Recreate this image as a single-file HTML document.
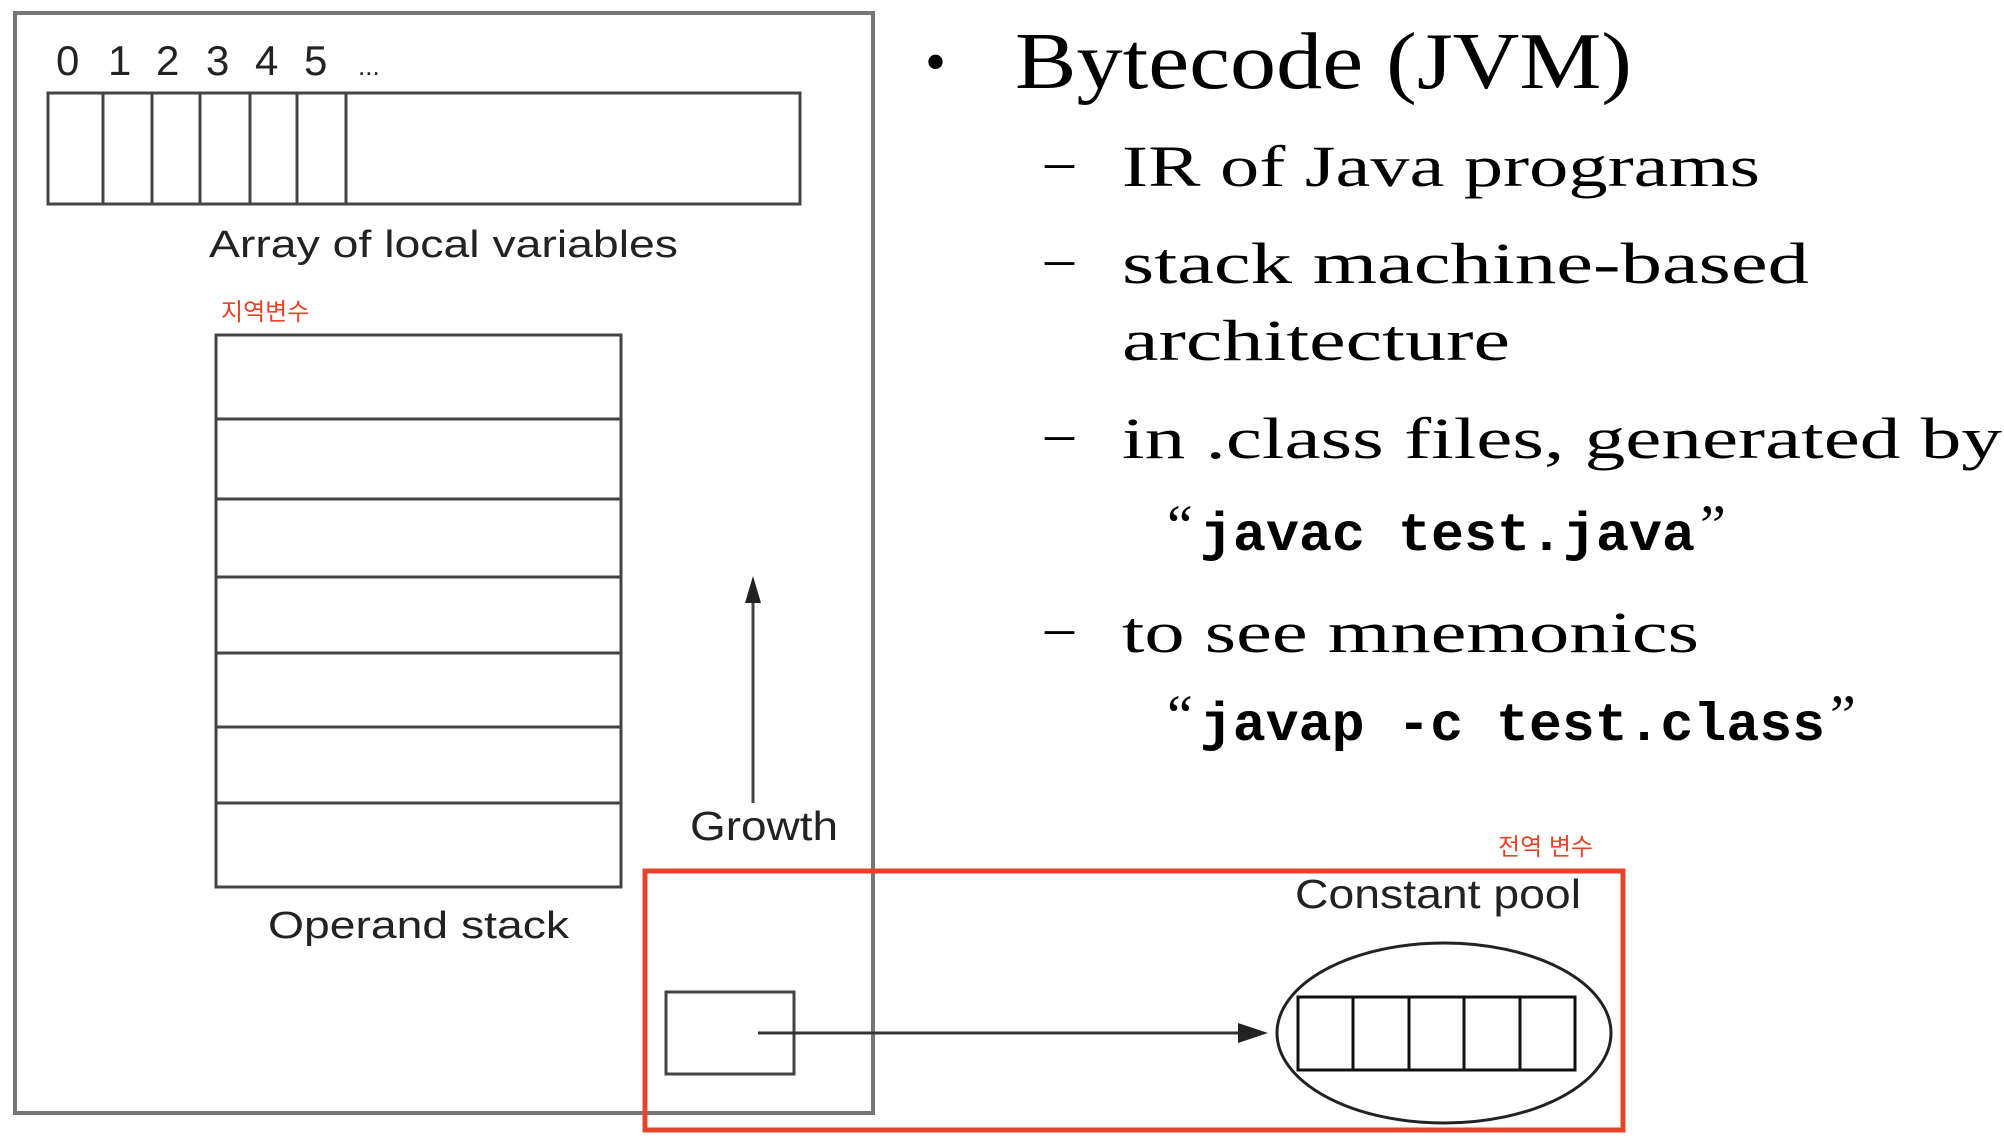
<!DOCTYPE html>
<html><head><meta charset="utf-8"><style>html,body{margin:0;padding:0;background:#fff}svg{display:block}</style></head>
<body>
<svg width="2004" height="1142" viewBox="0 0 2004 1142" xmlns="http://www.w3.org/2000/svg">
<g fill="none" stroke="#444" stroke-width="3">
<rect x="15" y="13" width="858" height="1100" stroke="#777" stroke-width="4"/>
<rect x="48" y="93" width="752" height="111"/>
<line x1="103" y1="93" x2="103" y2="204"/><line x1="152" y1="93" x2="152" y2="204"/>
<line x1="200" y1="93" x2="200" y2="204"/><line x1="250" y1="93" x2="250" y2="204"/>
<line x1="297" y1="93" x2="297" y2="204"/><line x1="346" y1="93" x2="346" y2="204"/>
<rect x="216" y="335" width="405" height="552"/>
<line x1="216" y1="419" x2="621" y2="419"/><line x1="216" y1="499" x2="621" y2="499"/>
<line x1="216" y1="577" x2="621" y2="577"/><line x1="216" y1="653" x2="621" y2="653"/>
<line x1="216" y1="727" x2="621" y2="727"/><line x1="216" y1="803" x2="621" y2="803"/>
<line x1="753" y1="803" x2="753" y2="595"/>
<rect x="666" y="992" width="128" height="82"/>
<line x1="758" y1="1033" x2="1255" y2="1033" stroke="#333"/>
<ellipse cx="1444" cy="1033" rx="167" ry="90" stroke="#222"/>
<rect x="1298" y="997" width="277" height="73" stroke="#111"/>
<line x1="1353" y1="997" x2="1353" y2="1070" stroke="#111"/><line x1="1409" y1="997" x2="1409" y2="1070" stroke="#111"/>
<line x1="1464" y1="997" x2="1464" y2="1070" stroke="#111"/><line x1="1520" y1="997" x2="1520" y2="1070" stroke="#111"/>
</g>
<polygon points="753,576 745,603 761,603" fill="#222"/>
<polygon points="1268,1033 1238,1023 1238,1043" fill="#222"/>
<rect x="645" y="871" width="978" height="259" fill="none" stroke="#e5442a" stroke-width="5"/>
<g font-family="'Liberation Sans',sans-serif" fill="#222">
<text x="56" y="75" font-size="42">0</text><text x="108" y="75" font-size="42">1</text>
<text x="156" y="75" font-size="42">2</text><text x="206" y="75" font-size="42">3</text>
<text x="255" y="75" font-size="42">4</text><text x="304" y="75" font-size="42">5</text>
<text x="358" y="75" font-size="26">...</text>
<text x="209" y="257" font-size="38" textLength="469" lengthAdjust="spacingAndGlyphs">Array of local variables</text>
<text x="268" y="938" font-size="38" textLength="301" lengthAdjust="spacingAndGlyphs">Operand stack</text>
<text x="690" y="840" font-size="41" textLength="148" lengthAdjust="spacingAndGlyphs">Growth</text>
<text x="1295" y="908" font-size="41" textLength="286" lengthAdjust="spacingAndGlyphs">Constant pool</text>
</g>
<g font-family="'Liberation Sans','Noto Sans CJK KR',sans-serif" fill="#e5442a" font-size="24">
<text x="221" y="320">지역변수</text>
<text x="1498" y="855">전역 변수</text>
</g>
<g font-family="'Liberation Serif',serif" fill="#000">
<text x="925" y="82" font-size="60">•</text>
<text x="1015" y="88" font-size="80" textLength="617" lengthAdjust="spacingAndGlyphs">Bytecode (JVM)</text>
<g font-size="58">
<text x="1045" y="180">–</text>
<text x="1122" y="186" textLength="638" lengthAdjust="spacingAndGlyphs">IR of Java programs</text>
<text x="1045" y="277">–</text>
<text x="1122" y="283" textLength="687" lengthAdjust="spacingAndGlyphs">stack machine-based</text>
<text x="1122" y="360" textLength="388" lengthAdjust="spacingAndGlyphs">architecture</text>
<text x="1045" y="452">–</text>
<text x="1122" y="458" textLength="880" lengthAdjust="spacingAndGlyphs">in .class files, generated by</text>
<text x="1045" y="646">–</text>
<text x="1122" y="652" textLength="577" lengthAdjust="spacingAndGlyphs">to see mnemonics</text>
<text x="1167" y="545">“</text><text x="1700" y="545">”</text>
<text x="1167" y="735">“</text><text x="1830" y="735">”</text>
</g>
<g font-family="'Liberation Mono',monospace" font-weight="bold" font-size="54">
<text x="1200" y="550" textLength="495" lengthAdjust="spacingAndGlyphs">javac test.java</text>
<text x="1200" y="740" textLength="625" lengthAdjust="spacingAndGlyphs">javap -c test.class</text>
</g>
</g>
</svg>
</body></html>
